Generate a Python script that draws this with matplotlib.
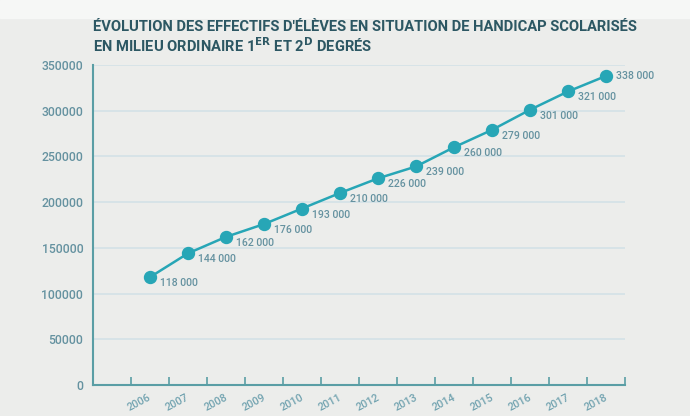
import matplotlib.pyplot as plt
from matplotlib.ticker import FixedLocator
import matplotlib.transforms as mtransforms

years = ['2006', '2007', '2008', '2009', '2010', '2011', '2012',
         '2013', '2014', '2015', '2016', '2017', '2018']
eleves = [118000, 144000, 162000, 176000, 193000, 210000, 226000,
          239000, 260000, 279000, 301000, 321000, 338000]
labels = ['118 000', '144 000', '162 000', '176 000', '193 000', '210 000', '226 000',
          '239 000', '260 000', '279 000', '301 000', '321 000', '338 000']
yticks = [0, 50000, 100000, 150000, 200000, 250000, 300000, 350000]

bg = '#ecedeb'
teal = '#27a6b6'
axis_col = '#5a9ea5'
txt_col = '#6592a0'
year_col = '#72a3b0'
title_col = '#2c5763'
grid_col = '#d3e2e7'

plt.rcParams['font.family'] = ['Roboto', 'DejaVu Sans']

fig = plt.figure(figsize=(6.9, 4.16), dpi=100, facecolor=bg)
# light strip at the very top of the picture
fig.patches.append(plt.Rectangle((0, 0.957), 1, 0.043, transform=fig.transFigure,
                                 color='#f6f7f6', zorder=0))
ax = fig.add_axes([0.1348, 0.0745, 0.7710, 0.7693])
ax.set_facecolor(bg)

x = list(range(len(years)))
ax.plot(x, eleves, color=teal, lw=1.8, marker='o', ms=8.6, zorder=3)

for i, (v, lab) in enumerate(zip(eleves, labels)):
    dy = 0 if i == len(years) - 1 else -4.3
    ax.annotate(lab, (i, v), xytext=(7.5, dy), textcoords='offset points',
                ha='left', va='center', fontsize=7.6, color=txt_col,
                fontweight='medium')

ax.set_xlim(-1.5, 12.5)
ax.set_ylim(0, 350000)
ax.set_yticks(yticks)
ax.set_yticklabels([str(t) for t in yticks], fontsize=8.8, color=txt_col,
                   fontweight='medium')
ax.tick_params(axis='y', length=0, pad=7)

# tick marks at slot edges, year labels at slot centres
ax.xaxis.set_major_locator(FixedLocator([i + 0.5 for i in range(-1, 13)]))
ax.xaxis.set_major_formatter(plt.NullFormatter())
ax.tick_params(axis='x', which='major', direction='in', length=6,
               width=1.2, color=axis_col)
ax.set_xticks(x, minor=True)
ax.set_xticklabels(years, minor=True, rotation=28, ha='right',
                   fontsize=7.8, color=year_col, fontweight='medium')
ax.tick_params(axis='x', which='minor', length=0, pad=5)
offset = mtransforms.ScaledTranslation(3 / 100, 0, fig.dpi_scale_trans)
for t in ax.xaxis.get_minorticklabels():
    t.set_transform(t.get_transform() + offset)

for y in yticks[1:]:
    ax.axhline(y, color=grid_col, lw=1.2, zorder=1)

for s in ['top', 'right']:
    ax.spines[s].set_visible(False)
for s in ['left', 'bottom']:
    ax.spines[s].set_color(axis_col)
    ax.spines[s].set_linewidth(1.5)

fig.text(0.1348, 0.935, "ÉVOLUTION DES EFFECTIFS D'ÉLÈVES EN SITUATION DE HANDICAP SCOLARISÉS",
         fontsize=10.6, fontweight='bold', color=title_col, va='center')
fig.text(0.1348, 0.890, r"EN MILIEU ORDINAIRE 1$^{\mathbf{ER}}$ ET 2$^{\mathbf{D}}$ DEGRÉS",
         fontsize=10.6, fontweight='bold', color=title_col, va='center')

fig.savefig('out.png', dpi=100, facecolor=bg)
